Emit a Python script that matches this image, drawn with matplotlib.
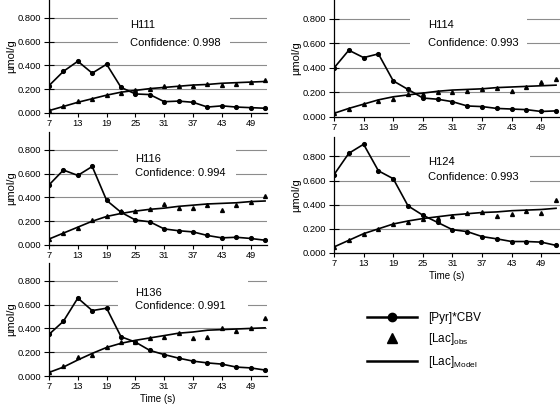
import matplotlib
matplotlib.use("Agg")
import matplotlib.pyplot as plt
from matplotlib.lines import Line2D
from matplotlib.patches import Rectangle
import numpy as np

plt.rcParams["font.family"] = ["Liberation Sans", "DejaVu Sans"]
plt.rcParams["mathtext.fontset"] = "custom"
plt.rcParams["mathtext.rm"] = "Liberation Sans"

time_s = [7, 10, 13, 16, 19, 22, 25, 28, 31, 34, 37, 40, 43, 46, 49, 52]
xticks = [7, 13, 19, 25, 31, 37, 43, 49]
yticks = [0.0, 0.2, 0.4, 0.6, 0.8]

# ── per-subject values ──────────────────────────────────────────────────
h111_pyr = [0.23, 0.35, 0.435, 0.335, 0.41, 0.215, 0.16, 0.155, 0.095, 0.10, 0.09, 0.05, 0.06, 0.05, 0.045, 0.04]
h111_obs = [0.025, 0.055, 0.10, 0.12, 0.15, 0.165, 0.195, 0.205, 0.225, 0.225, 0.23, 0.24, 0.235, 0.245, 0.26, 0.275]
h111_model = [0.02, 0.055, 0.09, 0.12, 0.15, 0.175, 0.19, 0.205, 0.215, 0.225, 0.235, 0.24, 0.25, 0.255, 0.26, 0.265]

h114_pyr = [0.40, 0.545, 0.485, 0.515, 0.295, 0.225, 0.155, 0.145, 0.125, 0.09, 0.085, 0.07, 0.065, 0.06, 0.045, 0.05]
h114_obs = [0.03, 0.065, 0.105, 0.13, 0.145, 0.185, 0.19, 0.20, 0.20, 0.21, 0.23, 0.24, 0.215, 0.245, 0.285, 0.31]
h114_model = [0.03, 0.07, 0.105, 0.14, 0.165, 0.18, 0.195, 0.21, 0.22, 0.225, 0.23, 0.24, 0.245, 0.25, 0.255, 0.26]

h116_pyr = [0.505, 0.63, 0.585, 0.66, 0.375, 0.275, 0.21, 0.195, 0.135, 0.12, 0.11, 0.08, 0.06, 0.065, 0.055, 0.04]
h116_obs = [0.05, 0.10, 0.145, 0.21, 0.24, 0.285, 0.29, 0.30, 0.345, 0.315, 0.31, 0.335, 0.295, 0.34, 0.365, 0.415]
h116_model = [0.05, 0.10, 0.15, 0.20, 0.24, 0.265, 0.285, 0.30, 0.31, 0.325, 0.335, 0.345, 0.35, 0.355, 0.365, 0.37]

h124_pyr = [0.648, 0.825, 0.90, 0.68, 0.615, 0.39, 0.313, 0.253, 0.193, 0.177, 0.136, 0.117, 0.095, 0.095, 0.09, 0.063]
h124_obs = [0.05, 0.105, 0.16, 0.195, 0.24, 0.26, 0.28, 0.29, 0.31, 0.335, 0.34, 0.31, 0.32, 0.35, 0.33, 0.435]
h124_model = [0.05, 0.105, 0.16, 0.20, 0.24, 0.265, 0.285, 0.30, 0.315, 0.325, 0.335, 0.34, 0.35, 0.355, 0.36, 0.37]

h136_pyr = [0.35, 0.46, 0.655, 0.55, 0.57, 0.33, 0.285, 0.215, 0.18, 0.15, 0.125, 0.11, 0.10, 0.075, 0.068, 0.05]
h136_obs = [0.035, 0.085, 0.16, 0.18, 0.24, 0.29, 0.285, 0.32, 0.33, 0.365, 0.32, 0.33, 0.40, 0.38, 0.40, 0.49]
h136_model = [0.03, 0.075, 0.135, 0.19, 0.24, 0.275, 0.30, 0.32, 0.34, 0.36, 0.37, 0.385, 0.39, 0.395, 0.40, 0.405]

W, H = 560, 404
fig = plt.figure(figsize=(W / 100, H / 100), dpi=100)
fig.patch.set_facecolor("white")


def px_axes(left, top, right, bottom):
    return fig.add_axes([left / W, (H - bottom) / H, (right - left) / W, (bottom - top) / H])


GRID_C = "#8c8c8c"


def panel(ax, pyr, obs, model, name, conf, xmax, ytop, tx, ty, box, xlabel=False):
    ax.set_xlim(7, xmax)
    ax.set_ylim(0, ytop)
    for y in yticks[1:]:
        ax.axhline(y, color=GRID_C, lw=0.8, zorder=1)
    ax.add_patch(Rectangle((box[0], 0.5), box[1] - box[0], 0.38,
                           facecolor="white", edgecolor="none", zorder=2))
    ax.plot(time_s, model, color="black", lw=1.2, zorder=3)
    ax.plot(time_s, pyr, color="black", lw=1.2, marker="o", ms=2.7, zorder=4)
    ax.plot(time_s, obs, ls="none", color="black", marker="^", ms=2.8, zorder=4)
    ax.text(tx, ty[0], name, fontsize=8, va="center", ha="left", zorder=5)
    ax.text(tx, ty[1], f"Confidence: {conf}", fontsize=8, va="center", ha="left", zorder=5)

    ax.set_xticks(xticks)
    ax.set_yticks(yticks)
    ax.set_yticklabels([f"{v:.3f}" for v in yticks])
    ax.tick_params(axis="y", direction="inout", length=7, width=0.8, labelsize=6.7, pad=2)
    ax.tick_params(axis="x", direction="out", length=3, width=0.8, labelsize=6.7, pad=1.5)
    for s in ("top", "right"):
        ax.spines[s].set_visible(False)
    for s in ("left", "bottom"):
        ax.spines[s].set_linewidth(0.9)
    ax.set_ylabel("µmol/g", fontsize=8, labelpad=1)
    if xlabel:
        ax.set_xlabel("Time (s)", fontsize=7, labelpad=2)


ax1 = px_axes(49, 0, 267, 113)
panel(ax1, h111_pyr, h111_obs, h111_model, "H111", "0.998", 52.4, 0.95,
      23.9, (0.74, 0.59), (21.4, 44.7))

ax2 = px_axes(334, 0, 560, 117)
panel(ax2, h114_pyr, h114_obs, h114_model, "H114", "0.993", 52.8, 0.955,
      26.1, (0.75, 0.60), (22.4, 46.1))

ax3 = px_axes(49, 132, 267, 245)
panel(ax3, h116_pyr, h116_obs, h116_model, "H116", "0.994", 52.4, 0.95,
      24.9, (0.72, 0.605), (21.4, 46.0))

ax4 = px_axes(334, 137, 560, 253)
panel(ax4, h124_pyr, h124_obs, h124_model, "H124", "0.993", 52.8, 0.96,
      26.1, (0.75, 0.63), (22.4, 46.8), xlabel=True)

ax5 = px_axes(49, 263, 267, 376)
panel(ax5, h136_pyr, h136_obs, h136_model, "H136", "0.991", 52.4, 0.95,
      24.9, (0.70, 0.59), (21.4, 48.5), xlabel=True)

# ── legend ──────────────────────────────────────────────────────────────
handles = [
    Line2D([], [], color="black", lw=1.8, marker="o", ms=6),
    Line2D([], [], ls="none", color="black", marker="^", ms=7),
    Line2D([], [], color="black", lw=1.8),
]
labels = ["[Pyr]*CBV", r"[Lac]$_{\mathrm{obs}}$", r"[Lac]$_{\mathrm{Model}}$"]
fig.legend(handles, labels, loc="upper left", bbox_to_anchor=(362 / W, (H - 307) / H),
           frameon=False, fontsize=8.5, handlelength=4.3, handletextpad=0.9,
           labelspacing=0.6, borderaxespad=0)

fig.savefig("out.png", dpi=100, facecolor="white")
